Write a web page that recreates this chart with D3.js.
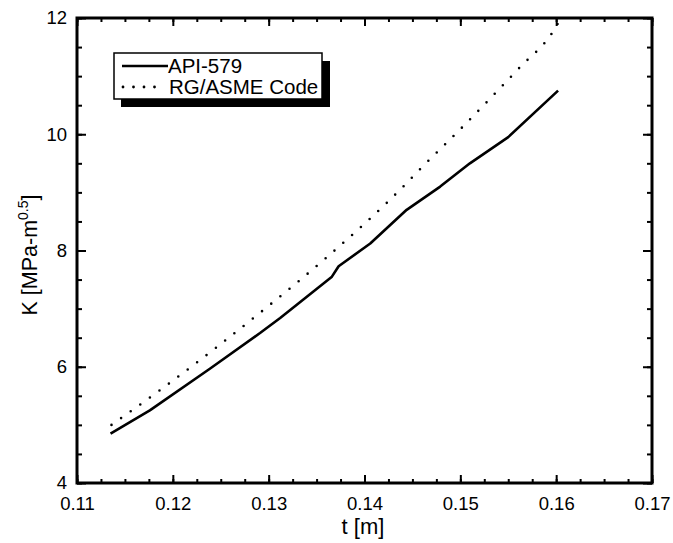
<!DOCTYPE html>
<html>
<head>
<meta charset="utf-8">
<script src="https://cdn.jsdelivr.net/npm/d3@7"></script>
<style>
  body { margin: 0; background: #fff; }
  text { font-family: "Liberation Sans", Arial, sans-serif; fill: #000; }
</style>
</head>
<body>
<svg id="chart" width="673" height="543"></svg>
<script>
// values
var apiT = [0.1135, 0.1176, 0.1239, 0.1291, 0.1312, 0.1366, 0.1373, 0.1406, 0.1444, 0.1479, 0.1510, 0.1550, 0.1602];
var apiK = [4.85, 5.25, 5.97, 6.58, 6.84, 7.55, 7.73, 8.12, 8.70, 9.10, 9.50, 9.95, 10.75];
var rgT = [0.1136, 0.1186, 0.1303, 0.1359, 0.1441, 0.1458, 0.1502, 0.1562, 0.1596, 0.1605];
var rgK = [5.00, 5.59, 7.09, 7.86, 9.11, 9.40, 10.12, 11.15, 11.75, 12.0];
var xTicks = [0.11, 0.12, 0.13, 0.14, 0.15, 0.16, 0.17];
var yTicks = [4, 6, 8, 10, 12];
var legendNames = ["API-579", "RG/ASME Code"];

var svg = d3.select("#chart");
// plot frame (top is taken by window.top, so different names)
var pLeft = 77, pRight = 652, pTop = 18, pBottom = 483;

var x = d3.scaleLinear().domain([0.11, 0.17]).range([pLeft, pRight]);
var y = d3.scaleLinear().domain([4, 12]).range([pBottom, pTop]);

// minor ticks
var xMinor = d3.range(0, 25).map(i => 0.11 + i * 0.0025);
var yMinor = d3.range(0, 17).map(i => 4 + i * 0.5);

// bottom / top axes, ticks inward
svg.append("g").attr("transform", "translate(0," + pBottom + ")")
  .call(d3.axisBottom(x).tickValues(xMinor).tickSize(-4).tickFormat(""));
svg.append("g").attr("transform", "translate(0," + pBottom + ")")
  .call(d3.axisBottom(x).tickValues(xTicks).tickSize(-8).tickPadding(14).tickFormat(d3.format(".2f")));
svg.append("g").attr("transform", "translate(0," + pTop + ")")
  .call(d3.axisTop(x).tickValues(xMinor).tickSize(-4).tickFormat(""));
svg.append("g").attr("transform", "translate(0," + pTop + ")")
  .call(d3.axisTop(x).tickValues(xTicks).tickSize(-8).tickFormat(""));

svg.append("g").attr("transform", "translate(" + pLeft + ",0)")
  .call(d3.axisLeft(y).tickValues(yMinor).tickSize(-5).tickFormat(""));
svg.append("g").attr("transform", "translate(" + pLeft + ",0)")
  .call(d3.axisLeft(y).tickValues(yTicks).tickSize(-9).tickPadding(10).tickFormat(d3.format("d")));
svg.append("g").attr("transform", "translate(" + pRight + ",0)")
  .call(d3.axisRight(y).tickValues(yMinor).tickSize(-5).tickFormat(""));
svg.append("g").attr("transform", "translate(" + pRight + ",0)")
  .call(d3.axisRight(y).tickValues(yTicks).tickSize(-9).tickFormat(""));

svg.selectAll(".domain").remove();
svg.selectAll(".tick line").attr("stroke", "#000").attr("stroke-width", 2);
svg.selectAll(".tick text").style("font-size", "18.5px").style("font-family", "'Liberation Sans', Arial, sans-serif");

// frame
svg.append("rect")
  .attr("x", pLeft).attr("y", pTop)
  .attr("width", pRight - pLeft).attr("height", pBottom - pTop)
  .attr("fill", "none").attr("stroke", "#000").attr("stroke-width", 3);

// curves
var apiLine = d3.line().x(d => x(d[0])).y(d => y(d[1]));
var rgLine = d3.line().x(d => x(d[0])).y(d => y(d[1])).curve(d3.curveMonotoneX);
var apiData = apiT.map((t, i) => [t, apiK[i]]);
var rgData = rgT.map((t, i) => [t, rgK[i]]);

svg.append("path").datum(rgData)
  .attr("d", rgLine)
  .attr("fill", "none").attr("stroke", "#000")
  .attr("stroke-width", 2.6).attr("stroke-linecap", "round")
  .attr("stroke-dasharray", "0,11.8");

svg.append("path").datum(apiData)
  .attr("d", apiLine)
  .attr("fill", "none").attr("stroke", "#000").attr("stroke-width", 2.6)
  .attr("stroke-linejoin", "round");

// legend with drop shadow
var lg = svg.append("g");
lg.append("rect").attr("x", 121).attr("y", 61).attr("width", 209).attr("height", 46).attr("fill", "#000");
lg.append("rect").attr("x", 114).attr("y", 53).attr("width", 208).attr("height", 46)
  .attr("fill", "#fff").attr("stroke", "#000").attr("stroke-width", 1.5);
lg.append("line").attr("x1", 122).attr("x2", 168).attr("y1", 66).attr("y2", 66)
  .attr("stroke", "#000").attr("stroke-width", 2.4);
lg.append("line").attr("x1", 123).attr("x2", 163).attr("y1", 87).attr("y2", 87)
  .attr("stroke", "#000").attr("stroke-width", 2.8).attr("stroke-linecap", "round")
  .attr("stroke-dasharray", "0,10.5");
lg.append("text").attr("x", 168).attr("y", 73).style("font-size", "20.5px").text(legendNames[0]);
lg.append("text").attr("x", 169).attr("y", 94).style("font-size", "20.5px").text(legendNames[1]);

// axis titles
svg.append("text").attr("x", 363).attr("y", 534).attr("text-anchor", "middle")
  .style("font-size", "22px").text("t [m]");

var yt = svg.append("text")
  .attr("transform", "translate(37,255) rotate(-90)")
  .attr("text-anchor", "middle")
  .style("font-size", "21.5px");
yt.append("tspan").text("K [MPa-m");
yt.append("tspan").attr("dy", -9).style("font-size", "14px").text("0.5");
yt.append("tspan").attr("dy", 9).text("]");
</script>
</body>
</html>
